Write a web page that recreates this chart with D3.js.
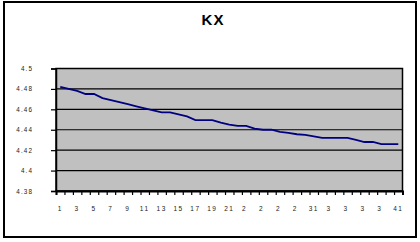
<!DOCTYPE html>
<html>
<head>
<meta charset="utf-8">
<script src="https://cdn.jsdelivr.net/npm/d3@7"></script>
<style>
  body { margin: 0; background: #fff; }
  svg { display: block; font-family: "Liberation Sans", Arial, sans-serif; }
</style>
</head>
<body>
<div id="chart"></div>
<script>
// daily values, 41 points
const days = d3.range(1, 42);
const values = [
  4.482, 4.480, 4.478, 4.475, 4.475, 4.471, 4.469, 4.467, 4.465, 4.463,
  4.461, 4.459, 4.457, 4.457, 4.455, 4.453, 4.4495, 4.4495, 4.4495, 4.447,
  4.445, 4.4437, 4.4437, 4.441, 4.440, 4.440, 4.438, 4.437, 4.4356, 4.435,
  4.4335, 4.432, 4.432, 4.432, 4.432, 4.430, 4.428, 4.428, 4.426, 4.426,
  4.426
];
// x labels as they appear (overlapping ones got cut to one digit)
const xLabels = ['1', '3', '5', '7', '9', '11', '13', '15', '17', '19', '21',
  '2', '2', '2', '2', '31', '3', '3', '3', '3', '41'];
const yTicks = [4.38, 4.4, 4.42, 4.44, 4.46, 4.48, 4.5];
const yLabels = ['4.38', '4.4', '4.42', '4.44', '4.46', '4.48', '4.5'];

const width = 420, height = 242;
const plot = { left: 56, right: 402.5, top: 68.5, bottom: 191 };

const svg = d3.select('#chart').append('svg')
  .attr('width', width)
  .attr('height', height);

// outer frame
svg.append('rect')
  .attr('x', 4).attr('y', 2)
  .attr('width', 412).attr('height', 235)
  .attr('fill', '#fff')
  .attr('stroke', '#000')
  .attr('stroke-width', 2);

svg.append('text')
  .attr('x', 213).attr('y', 25)
  .attr('text-anchor', 'middle')
  .attr('font-size', 15)
  .attr('font-weight', 'bold')
  .attr('letter-spacing', 1)
  .text('KX');

const x = d3.scaleLinear().domain([0, days.length]).range([plot.left, plot.right]);
const y = d3.scaleLinear().domain([4.38, 4.5]).range([plot.bottom, plot.top]);

svg.append('rect')
  .attr('x', plot.left).attr('y', plot.top)
  .attr('width', plot.right - plot.left)
  .attr('height', plot.bottom - plot.top)
  .attr('fill', '#c0c0c0');

// gridlines
svg.append('g')
  .selectAll('line')
  .data(yTicks)
  .join('line')
  .attr('x1', plot.left).attr('x2', plot.right)
  .attr('y1', d => y(d)).attr('y2', d => y(d))
  .attr('stroke', '#000')
  .attr('stroke-width', 1.2);

svg.append('rect')
  .attr('x', plot.left).attr('y', plot.top)
  .attr('width', plot.right - plot.left)
  .attr('height', plot.bottom - plot.top)
  .attr('fill', 'none')
  .attr('stroke', '#000')
  .attr('stroke-width', 1.5);

// y axis
const yAxis = svg.append('g')
  .attr('transform', `translate(${plot.left},0)`)
  .call(d3.axisLeft(y).tickValues(yTicks).tickSize(5).tickPadding(18)
    .tickFormat((d, i) => yLabels[i]));
yAxis.select('.domain').attr('stroke', '#000').attr('stroke-width', 1.5);
yAxis.selectAll('.tick line').attr('stroke', '#000').attr('stroke-width', 1.2);
yAxis.selectAll('.tick text')
  .attr('font-size', 6.3)
  .attr('letter-spacing', 1.1)
  .attr('fill', '#222')
  .attr('font-family', '"Liberation Sans", Arial, sans-serif');

// x axis: ticks on category boundaries
const xAxis = svg.append('g')
  .attr('transform', `translate(0,${plot.bottom})`)
  .call(d3.axisBottom(x).tickValues(d3.range(days.length + 1)).tickSize(4).tickFormat(''));
xAxis.select('.domain').attr('stroke', '#000').attr('stroke-width', 2);
xAxis.selectAll('.tick line').attr('stroke', '#000').attr('stroke-width', 1.2);

svg.append('g')
  .selectAll('text')
  .data(xLabels)
  .join('text')
  .attr('x', (d, i) => x(i * 2 + 0.5) + (d.length === 1 && i > 4 ? -1.5 : 0))
  .attr('y', 211)
  .attr('text-anchor', 'middle')
  .attr('font-size', 6.5)
  .attr('letter-spacing', 1.5)
  .attr('fill', '#222')
  .text(d => d);

const line = d3.line()
  .x((d, i) => x(i + 0.5))
  .y(d => y(d));

svg.append('path')
  .datum(values)
  .attr('d', line)
  .attr('fill', 'none')
  .attr('stroke', '#000080')
  .attr('stroke-width', 1.8);
</script>
</body>
</html>
